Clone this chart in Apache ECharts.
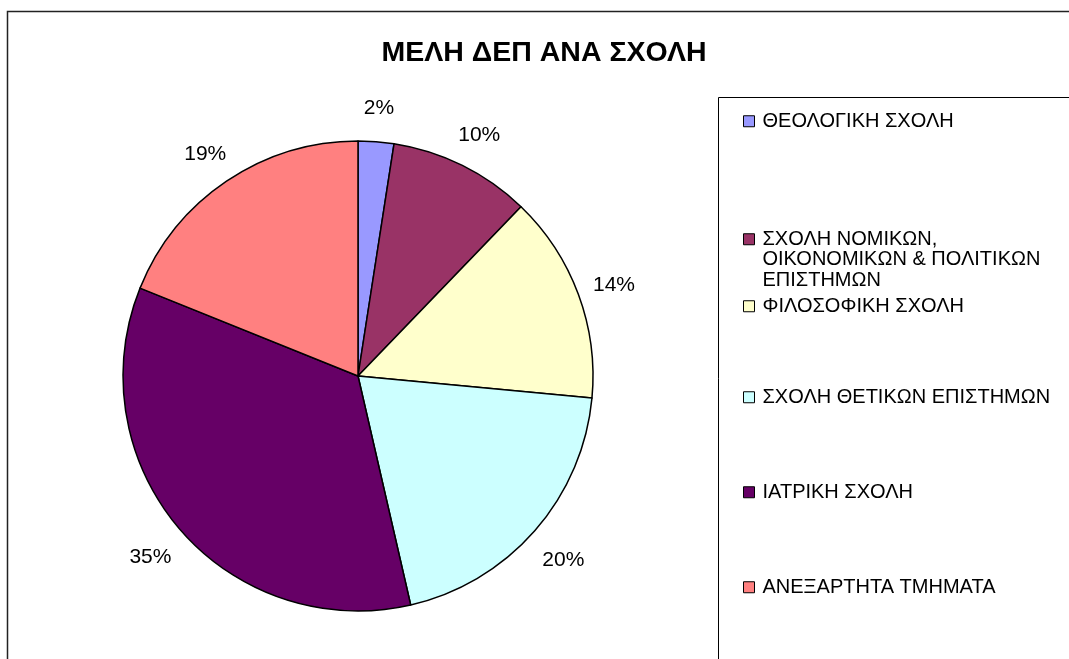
<!DOCTYPE html>
<html>
<head>
<meta charset="utf-8">
<style>
html,body{margin:0;padding:0;background:#fff;}
#chart{width:1069px;height:659px;}
</style>
<script src="https://cdn.jsdelivr.net/npm/echarts@6/dist/echarts.min.js"></script>
</head>
<body>
<div id="chart"></div>
<script>
const titleText = 'ΜΕΛΗ ΔΕΠ ΑΝΑ ΣΧΟΛΗ';
const categories = [
  'ΘΕΟΛΟΓΙΚΗ ΣΧΟΛΗ',
  'ΣΧΟΛΗ ΝΟΜΙΚΩΝ, ΟΙΚΟΝΟΜΙΚΩΝ & ΠΟΛΙΤΙΚΩΝ ΕΠΙΣΤΗΜΩΝ',
  'ΦΙΛΟΣΟΦΙΚΗ ΣΧΟΛΗ',
  'ΣΧΟΛΗ ΘΕΤΙΚΩΝ ΕΠΙΣΤΗΜΩΝ',
  'ΙΑΤΡΙΚΗ ΣΧΟΛΗ',
  'ΑΝΕΞΑΡΤΗΤΑ ΤΜΗΜΑΤΑ'
];
const legendLabels = [
  'ΘΕΟΛΟΓΙΚΗ ΣΧΟΛΗ',
  '\n\nΣΧΟΛΗ ΝΟΜΙΚΩΝ,\nΟΙΚΟΝΟΜΙΚΩΝ & ΠΟΛΙΤΙΚΩΝ\nΕΠΙΣΤΗΜΩΝ',
  'ΦΙΛΟΣΟΦΙΚΗ ΣΧΟΛΗ',
  'ΣΧΟΛΗ ΘΕΤΙΚΩΝ ΕΠΙΣΤΗΜΩΝ',
  'ΙΑΤΡΙΚΗ ΣΧΟΛΗ',
  'ΑΝΕΞΑΡΤΗΤΑ ΤΜΗΜΑΤΑ'
];
const values = [2.45, 9.75, 14.3, 19.9, 34.7, 18.9];
const colors = ['#9999FF', '#993366', '#FFFFCC', '#CCFFFF', '#660066', '#FF8080'];

const FONT = '"Liberation Sans", Arial, sans-serif';
const pieData = categories.map((c, i) => ({ name: c, value: values[i], itemStyle: { color: colors[i] } }));

// legend item icon centres (px)
const legendCenters = [121, 238, 306, 397, 492, 587];
const legends = categories.map((c, i) => {
  const multi = i === 1;
  return {
    data: [c],
    orient: 'vertical',
    left: 743,
    top: multi ? legendCenters[i] - 50 : legendCenters[i] - 10,
    padding: 0,
    itemWidth: 11,
    itemHeight: 11,
    icon: 'rect',
    selectedMode: false,
    itemStyle: { borderColor: '#000', borderWidth: 1 },
    formatter: () => legendLabels[i],
    textStyle: {
      fontFamily: FONT, fontSize: 20, color: '#000', lineHeight: 20.5,
      padding: [0, 0, 0, 3]
    }
  };
});

const chart = echarts.init(document.getElementById('chart'), null, { renderer: 'canvas' });
chart.setOption({
  backgroundColor: '#fff',
  animation: false,
  title: {
    text: titleText,
    left: 539, top: 34, textAlign: 'center',
    textStyle: { fontFamily: FONT, fontSize: 28.5, fontWeight: 'bold', color: '#000' }
  },
  legend: legends,
  graphic: [
    { type: 'rect', shape: { x: 7.5, y: 11.5, width: 1200, height: 800 }, style: { fill: 'none', stroke: '#222', lineWidth: 1.5 }, silent: true, z: -10 },
    { type: 'rect', shape: { x: 718.5, y: 97.5, width: 500, height: 700 }, style: { fill: 'none', stroke: '#000', lineWidth: 1 }, silent: true, z: -10 }
  ],
  series: [
    {
      type: 'pie',
      center: [358, 376],
      radius: [0, 235],
      startAngle: 90,
      clockwise: true,
      data: pieData,
      label: { show: false },
      labelLine: { show: false },
      itemStyle: { borderColor: '#000', borderWidth: 1.5 },
      emphasis: { disabled: true },
      silent: true
    },
    {
      type: 'pie',
      center: [358, 376],
      radius: [250, 290],
      startAngle: 90,
      clockwise: true,
      percentPrecision: 0,
      data: pieData.map(d => ({ name: d.name, value: d.value, itemStyle: { color: 'rgba(0,0,0,0)' } })),
      itemStyle: { borderWidth: 0 },
      label: {
        show: true, position: 'inside', formatter: '{d}%', offset: [0, 4],
        fontFamily: FONT, fontSize: 21, color: '#000'
      },
      labelLine: { show: false },
      emphasis: { disabled: true },
      silent: true
    }
  ]
});
</script>
</body>
</html>
